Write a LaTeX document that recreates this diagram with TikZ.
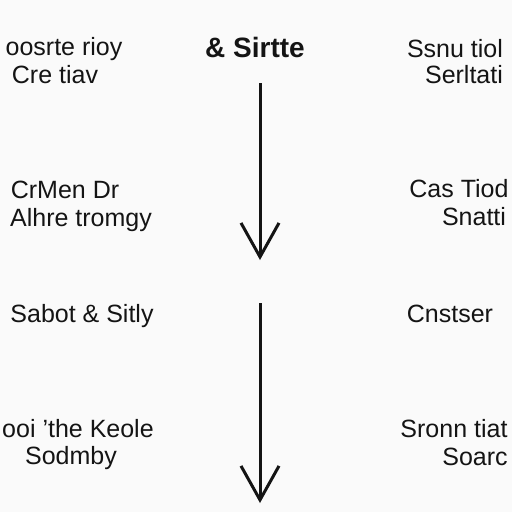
\documentclass[tikz,border=0pt]{standalone}
\usepackage{fontspec}
\setmainfont{Liberation Sans}
\usetikzlibrary{positioning,arrows.meta}

\begin{document}
\begin{tikzpicture}[x=1pt,y=-1pt]
	\tikzstyle{txt}=[inner sep=0pt,anchor=base,text=black!92,font=\fontsize{25}{30}\selectfont]
	\tikzstyle{head}=[txt,font=\fontsize{28}{34}\selectfont\bfseries]
	\tikzstyle{flow}=[line width=3pt,black!92,-{Straight Barb[length=34pt,width=38pt]}]
	\fill[black!2] (0,0) rectangle (512,512);
	\useasboundingbox (0,0) rectangle (512,512);
		\node[head] (title) at (255,57) {\& Sirtte};
		\node[txt] (l1a) at (64,55) {oosrte rioy};
		\node[txt] (l1b) at (55,83) {Cre tiav};
		\node[txt] (r1a) at (455,57) {Ssnu tiol};
		\node[txt] (r1b) at (464,83) {Serltati};
		\node[txt] (l2a) at (65,198) {CrMen Dr};
		\node[txt] (l2b) at (81,226) {Alhre tromgy};
		\node[txt] (r2a) at (459,197) {Cas Tiod};
		\node[txt] (r2b) at (474,225) {Snatti};
		\node[txt] (l3) at (82,322) {Sabot \& Sitly};
		\node[txt] (r3) at (450,322) {Cnstser};
		\node[txt] (l4a) at (78,437) {ooi 'the Keole};
		\node[txt] (l4b) at (71,464) {Sodmby};
		\node[txt] (r4a) at (454,437) {Sronn tiat};
		\node[txt] (r4b) at (475,465) {Soarc};
	\coordinate (a1) at (260,83);
	\coordinate (a2) at (260,260);
	\coordinate (a3) at (260,303);
	\coordinate (a4) at (260,503);
			\draw[flow] (a1) -- (a2);
			\draw[flow] (a3) -- (a4);
\end{tikzpicture}
\end{document}
